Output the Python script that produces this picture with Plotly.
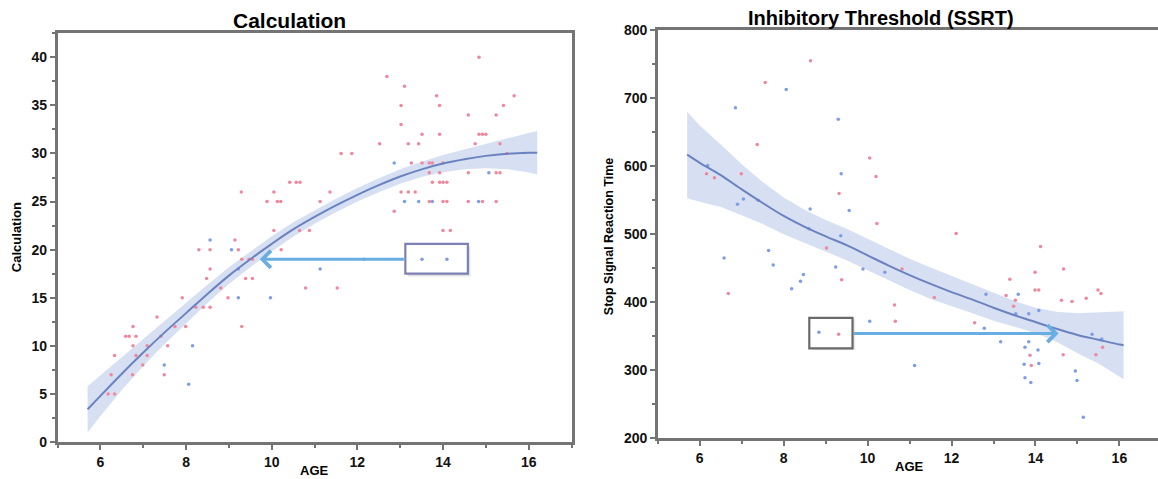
import plotly.graph_objects as go

# ---------------- data: Calculation (left) ----------------
calc_pink_age = [6.18, 6.33, 6.25, 6.33, 6.59, 6.67, 6.76, 6.76, 6.75, 6.83, 6.83, 6.99, 7.09, 7.09, 7.32, 7.41,
                 7.49, 7.57, 7.74, 7.91, 7.99, 8.23, 8.30, 8.40, 8.48, 8.56, 8.56, 8.56, 8.81, 8.98, 9.14, 9.22,
                 9.29, 9.30, 9.30, 9.39, 9.47, 9.55, 9.55, 9.89, 10.05, 10.05, 10.13, 10.21, 10.22, 10.42, 10.57,
                 10.66, 10.65, 10.79, 10.88, 11.13, 11.36, 11.53, 11.62, 11.87, 12.52, 12.69, 12.86, 13.02, 13.02,
                 13.02, 13.10, 13.19, 13.19, 13.26, 13.35, 13.43, 13.51, 13.51, 13.68, 13.68, 13.68, 13.75, 13.75,
                 13.85, 13.92, 13.92, 13.92, 13.92, 14.00, 14.00, 14.00, 14.00, 14.09, 14.09, 14.17, 14.59, 14.59,
                 14.59, 14.75, 14.84, 14.84, 14.92, 14.92, 15.00, 15.24, 15.24, 15.24, 15.33, 15.33, 15.41, 15.49,
                 15.66]
calc_pink_val = [5, 5, 7, 9, 11, 11, 12, 10, 7, 11, 9, 8, 10, 9, 13, 11,
                 7, 10, 12, 15, 12, 14, 20, 14, 17, 20, 18, 14, 16, 15, 21, 20,
                 26, 19, 12, 17, 19, 19, 17, 25, 26, 22, 25, 25, 20, 27, 27,
                 27, 22, 16, 22, 25, 26, 16, 30, 30, 31, 38, 24, 35, 33,
                 26, 37, 31, 26, 29, 26, 31, 32, 29, 29, 28, 25, 29, 27,
                 36, 35, 32, 28, 27, 29, 27, 25, 22, 27, 25, 22, 34, 28,
                 25, 31, 40, 32, 32, 25, 32, 34, 28, 25, 31, 28, 35, 30,
                 36]
calc_blue_age = [7.49, 8.06, 8.15, 8.56, 9.06, 9.22, 9.22, 9.97, 11.13, 12.15, 12.86, 13.10, 13.43, 13.51,
                 13.75, 14.09, 14.83, 15.07]
calc_blue_val = [8, 6, 10, 21, 20, 18, 15, 15, 18, 19, 29, 25, 25, 19, 25, 19, 25, 28]

calc_fit_age = [5.7, 6, 6.5, 7, 7.5, 8, 8.5, 9, 9.5, 10, 10.5, 11, 11.5, 12, 12.5, 13, 13.5, 14, 14.5, 15,
                15.5, 16, 16.2]
calc_fit_mid = [3.4, 4.8, 7.1, 9.3, 11.4, 13.4, 15.4, 17.3, 19.0, 20.6, 22.1, 23.4, 24.6, 25.7, 26.7, 27.6,
                28.35, 28.95, 29.4, 29.75, 29.97, 30.07, 30.08]
calc_fit_hi = [5.8, 6.9, 8.8, 10.7, 12.6, 14.45, 16.35, 18.18, 19.82, 21.38, 22.85, 24.12, 25.3, 26.4, 27.42,
               28.35, 29.15, 29.85, 30.45, 31.05, 31.57, 32.12, 32.33]
calc_fit_lo = [1.0, 2.7, 5.4, 7.9, 10.2, 12.35, 14.45, 16.42, 18.18, 19.82, 21.35, 22.68, 23.9, 25.0, 25.98,
               26.85, 27.55, 28.05, 28.35, 28.45, 28.37, 28.02, 27.83]

# ---------------- data: SSRT (right) ----------------
ssrt_pink_age = [6.16, 6.35, 6.68, 6.99, 7.37, 7.56, 8.64, 9.02, 9.32, 9.38, 9.31, 10.05, 10.20, 10.22, 10.64,
                 10.66, 10.82, 11.59, 12.11, 12.55, 13.30, 13.39, 13.48, 13.52, 13.87, 13.90, 13.99, 13.99,
                 14.08, 14.12, 14.62, 14.66, 14.67, 14.87, 15.21, 15.44, 15.49, 15.56, 15.60]
ssrt_pink_val = [589, 583, 413, 589, 632, 723, 755, 480, 560, 433, 353, 612, 585, 516, 396,
                 372, 449, 407, 501, 370, 410, 434, 394, 403, 322, 307, 444, 418,
                 418, 482, 403, 323, 449, 401, 406, 323, 418, 413, 334]
ssrt_blue_age = [6.19, 6.58, 6.85, 6.90, 7.04, 7.39, 7.64, 7.75, 8.06, 8.19, 8.40, 8.47, 8.60, 8.63, 8.84,
                 9.24, 9.30, 9.36, 9.37, 9.56, 9.89, 10.05, 10.41, 11.12, 12.78, 12.82, 13.17, 13.53, 13.59,
                 13.73, 13.75, 13.75, 13.84, 13.84, 13.89, 14.06, 14.08, 14.08, 14.95, 14.99, 15.14, 15.35,
                 15.58]
ssrt_blue_val = [601, 465, 686, 544, 552, 550, 476, 455, 713, 420, 431, 441, 508, 537, 356,
                 452, 669, 498, 589, 535, 449, 372, 444, 307, 362, 412, 342, 383, 412,
                 309, 334, 289, 383, 342, 282, 330, 388, 310, 299, 285, 231, 353,
                 346]

ssrt_fit_age = [5.7, 6, 6.5, 7, 7.5, 8, 8.5, 9, 9.5, 10, 10.5, 11, 11.5, 12, 12.5, 13, 13.5, 14, 14.5, 15,
                15.5, 16, 16.1]
ssrt_fit_mid = [617, 605, 587, 566, 546, 527, 511, 497, 484, 469, 454, 440, 427, 415, 404, 392, 381, 371, 361,
                352, 345, 338, 337]
ssrt_fit_hi = [680, 660, 632, 603, 577, 554, 536, 521, 508, 493, 478, 464, 451, 439, 427, 414, 402, 392, 386,
               384, 385, 387, 387]
ssrt_fit_lo = [553, 548, 540, 528, 515, 500, 487, 474, 462, 447, 432, 418, 405, 394, 384, 373, 364, 355, 342,
               325, 310, 291, 287]

x_ticks = [6, 8, 10, 12, 14, 16]

# ---------------- styling ----------------
PINK = "#f0879c"
BLUE = "#7d9de6"
LINE = "#6a82c0"
BAND = "rgba(130,160,215,0.32)"
FRAME = "#747474"
FONT = "Liberation Sans Narrow, Liberation Sans, Arial, sans-serif"

# Canvas geometry: the photographed page shows the figure shifted 8px down and
# squeezed vertically (~0.968), so layout is set in a taller canvas to compensate.
W, H = 1158, 487
VS, VOFF = 0.9677, 8


def fx(px):  # target picture pixel x -> paper fraction
    return px / W


def fy(py):  # target picture pixel y -> paper fraction
    return 1 - (py / VS - VOFF) / H


fig = go.Figure()


def band(age, lo, hi, xa, ya):
    fig.add_trace(go.Scatter(x=list(age) + list(age)[::-1], y=list(hi) + list(lo)[::-1],
                             fill="toself", fillcolor=BAND, line=dict(width=0), mode="lines",
                             xaxis=xa, yaxis=ya, hoverinfo="skip", showlegend=False))


band(calc_fit_age, calc_fit_lo, calc_fit_hi, "x", "y")
fig.add_trace(go.Scatter(x=calc_pink_age, y=calc_pink_val, mode="markers",
                         marker=dict(color=PINK, size=3.5), xaxis="x", yaxis="y", showlegend=False))
fig.add_trace(go.Scatter(x=calc_blue_age, y=calc_blue_val, mode="markers",
                         marker=dict(color=BLUE, size=3.5), xaxis="x", yaxis="y", showlegend=False))
fig.add_trace(go.Scatter(x=calc_fit_age, y=calc_fit_mid, mode="lines",
                         line=dict(color=LINE, width=2, shape="spline"), xaxis="x", yaxis="y", showlegend=False))

band(ssrt_fit_age, ssrt_fit_lo, ssrt_fit_hi, "x2", "y2")
fig.add_trace(go.Scatter(x=ssrt_pink_age, y=ssrt_pink_val, mode="markers",
                         marker=dict(color=PINK, size=3.5), xaxis="x2", yaxis="y2", showlegend=False))
fig.add_trace(go.Scatter(x=ssrt_blue_age, y=ssrt_blue_val, mode="markers",
                         marker=dict(color=BLUE, size=3.5), xaxis="x2", yaxis="y2", showlegend=False))
fig.add_trace(go.Scatter(x=ssrt_fit_age, y=ssrt_fit_mid, mode="lines",
                         line=dict(color=LINE, width=2, shape="spline"), xaxis="x2", yaxis="y2", showlegend=False))

tickfont = dict(family=FONT, size=14, color="#111", weight="bold")
common = dict(showgrid=False, zeroline=False, showline=True, linecolor=FRAME, linewidth=2.5,
              ticks="outside", ticklen=5, tickwidth=1.5, tickcolor=FRAME, tickfont=tickfont)

fig.update_layout(
    width=W, height=H, margin=dict(l=0, r=0, t=0, b=0),
    paper_bgcolor="white", plot_bgcolor="white", showlegend=False,
    xaxis=dict(domain=[fx(57.6), fx(571.5)], range=[5, 17], tickvals=x_ticks, mirror=True,
               minor=dict(ticks="outside", ticklen=3, tickcolor=FRAME, dtick=1, tick0=5),
               anchor="y", **common),
    yaxis=dict(domain=[fy(442), fy(33)], range=[0, 42.5], dtick=5, tick0=0, mirror=True,
               minor=dict(ticks="outside", ticklen=3, tickcolor=FRAME, dtick=2.5, tick0=0),
               anchor="x", **common),
    xaxis2=dict(domain=[fx(657.8), 1.0], range=[5, 16.92], tickvals=x_ticks, mirror=True,
                minor=dict(ticks="outside", ticklen=3, tickcolor=FRAME, dtick=1, tick0=5),
                anchor="y2", **common),
    yaxis2=dict(domain=[fy(438.3), fy(30)], range=[200, 800], dtick=100, tick0=200,
                minor=dict(ticks="outside", ticklen=3, tickcolor=FRAME, dtick=50, tick0=200),
                anchor="x2", **common),
)


def ptext(text, xpx, ypx, size, angle=0):
    fig.add_annotation(text=text, x=fx(xpx), y=fy(ypx), xref="paper", yref="paper",
                       showarrow=False, textangle=angle, xanchor="center", yanchor="middle",
                       font=dict(family=FONT, size=size, color="#000", weight="bold"))


ptext("Calculation", 289, 20, 21)
ptext("Inhibitory Threshold (SSRT)", 881, 18, 20)
ptext("AGE", 314, 471, 13)
ptext("AGE", 909, 467, 13)
ptext("Calculation", 16, 237, 13, -90)
ptext("Stop Signal Reaction Time", 609, 237, 12.5, -90)


# highlight boxes with soft shadows
def box(xr, x0, x1, y0, y1, color, sx, sy):
    for k, op in [(4, 0.04), (3, 0.05), (2, 0.06)]:
        fig.add_shape(type="rect", xref=xr, yref=xr.replace("x", "y"),
                      x0=x0 + sx * k * 0.3, x1=x1 + sx * k * 0.3, y0=y0 - sy * k * 0.3, y1=y1 - sy * k * 0.3,
                      line=dict(width=0), fillcolor=f"rgba(0,0,0,{op})", layer="below")
    fig.add_shape(type="rect", xref=xr, yref=xr.replace("x", "y"), x0=x0, x1=x1, y0=y0, y1=y1,
                  line=dict(color=color, width=2.2), fillcolor="white", layer="below")


box("x", 13.12, 14.58, 17.5, 20.6, "#7d80b4", 0.06, 0.3)
box("x2", 8.61, 9.64, 332.3, 377.2, "#6a6a6a", 0.06, 2.5)

ARROW = "#68aee2"
fig.add_annotation(x=9.72, y=19.0, ax=13.12, ay=19.0, xref="x", yref="y", axref="x", ayref="y",
                   showarrow=True, arrowhead=4, arrowsize=1.1, arrowwidth=3, arrowcolor=ARROW, text="")
fig.add_annotation(x=14.55, y=354.0, ax=9.64, ay=354.0, xref="x2", yref="y2", axref="x2", ayref="y2",
                   showarrow=True, arrowhead=4, arrowsize=1.1, arrowwidth=3, arrowcolor=ARROW, text="")

fig.write_html("out.html")
